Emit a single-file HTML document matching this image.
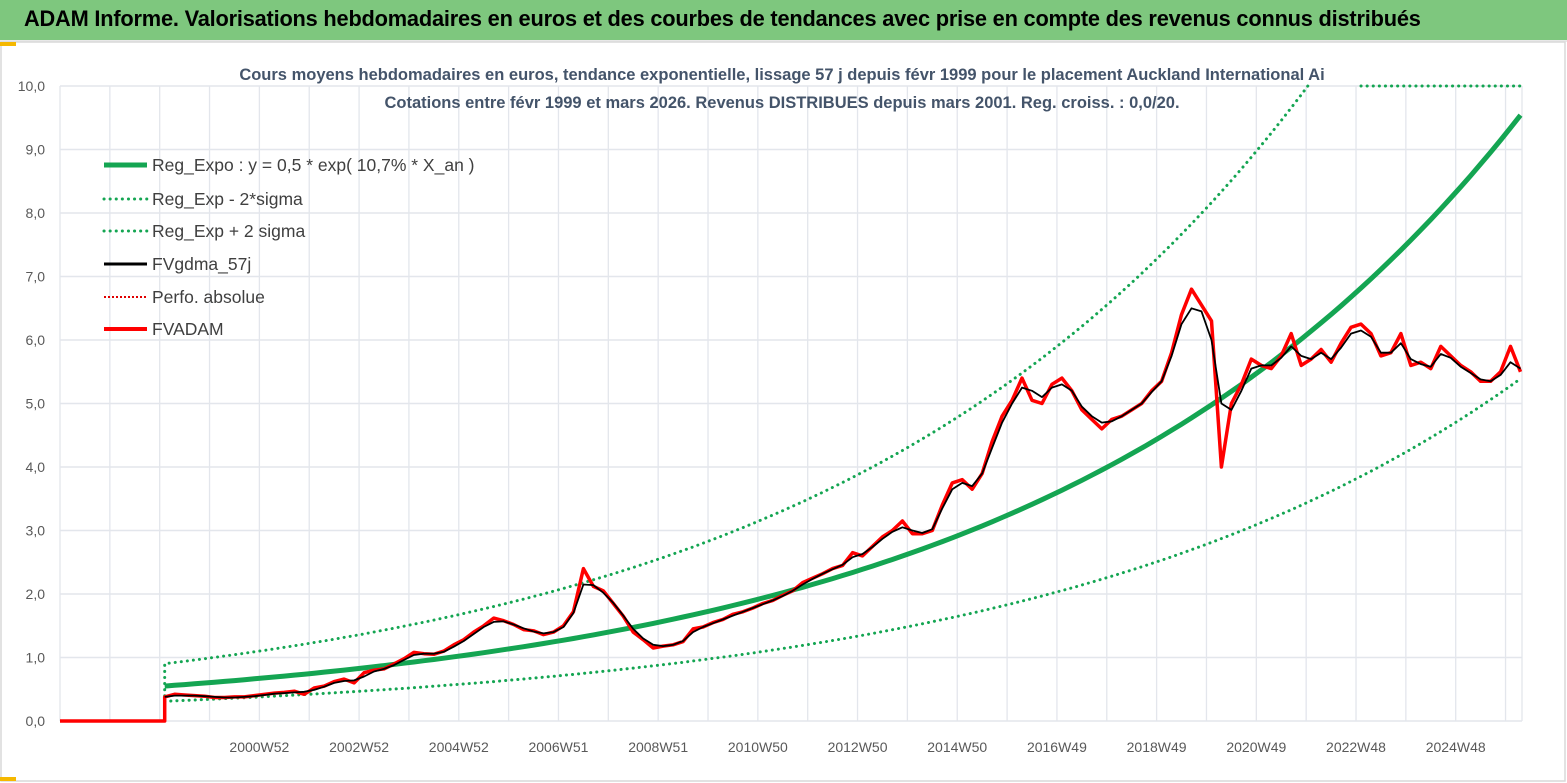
<!DOCTYPE html>
<html><head><meta charset="utf-8"><style>
html,body{margin:0;padding:0;background:#fff;}
body{width:1567px;height:783px;overflow:hidden;position:relative;font-family:"Liberation Sans",sans-serif;}
#hdr{position:absolute;left:0;top:0;width:1567px;height:40px;background:#7ec77e;border-bottom:2px solid #e8e8e8;}
#hdr span{position:absolute;left:24px;top:6px;font-size:22px;font-weight:bold;color:#000;letter-spacing:-0.2px;transform:scaleX(0.99);transform-origin:left;white-space:nowrap;}
svg{position:absolute;left:0;top:0;}
</style></head><body>
<div id="hdr"><span>ADAM Informe. Valorisations hebdomadaires en euros et des courbes de tendances avec prise en compte des revenus connus distribués</span></div>
<svg id="chart" width="1567" height="783"></svg>
<script>
// ---- data ----
const startYear = 1999.1;
const stepYears = 0.2;
const yTicks = [0,1,2,3,4,5,6,7,8,9,10];
const yTickLabels = ["0,0","1,0","2,0","3,0","4,0","5,0","6,0","7,0","8,0","9,0","10,0"];
const xTickYears = [2001,2003,2005,2007,2009,2011,2013,2015,2017,2019,2021,2023,2025];
const xTickLabels = ["2000W52","2002W52","2004W52","2006W51","2008W51","2010W50","2012W50","2014W50","2016W49","2018W49","2020W49","2022W48","2024W48"];
const regParams = [0.55, 0.1049];      // a, k : y = a*exp(k*(yr-start))
const bandFactors = [0.565, 1.64];     // lower, upper
const fvadam = [0.38,0.42,0.41,0.40,0.39,0.37,0.37,0.38,0.38,0.40,0.42,0.44,0.45,0.47,0.42,0.52,0.55,0.62,0.66,0.60,0.76,0.80,0.82,0.90,0.98,1.08,1.06,1.05,1.10,1.20,1.28,1.40,1.50,1.62,1.58,1.52,1.44,1.42,1.36,1.40,1.50,1.72,2.40,2.12,2.05,1.85,1.65,1.40,1.28,1.15,1.18,1.20,1.25,1.45,1.48,1.55,1.60,1.68,1.72,1.78,1.85,1.90,1.98,2.05,2.18,2.25,2.32,2.40,2.45,2.65,2.60,2.75,2.90,3.00,3.15,2.95,2.95,3.00,3.40,3.75,3.80,3.65,3.90,4.40,4.80,5.05,5.40,5.05,5.00,5.30,5.40,5.20,4.90,4.75,4.60,4.75,4.80,4.90,5.00,5.20,5.35,5.80,6.40,6.80,6.55,6.30,4.00,5.00,5.30,5.70,5.60,5.55,5.75,6.10,5.60,5.70,5.85,5.65,5.95,6.20,6.25,6.10,5.75,5.80,6.10,5.60,5.65,5.55,5.90,5.75,5.60,5.50,5.35,5.35,5.50,5.90,5.50];
const fvgdma = [0.38,0.40,0.40,0.40,0.39,0.38,0.37,0.37,0.38,0.39,0.41,0.43,0.44,0.45,0.46,0.49,0.54,0.60,0.63,0.64,0.70,0.78,0.82,0.88,0.96,1.04,1.06,1.06,1.09,1.17,1.26,1.37,1.48,1.56,1.57,1.52,1.46,1.41,1.38,1.40,1.48,1.70,2.15,2.14,2.02,1.86,1.66,1.45,1.30,1.20,1.18,1.20,1.26,1.40,1.48,1.54,1.60,1.66,1.72,1.78,1.84,1.90,1.97,2.05,2.15,2.24,2.32,2.39,2.46,2.58,2.63,2.74,2.87,2.98,3.05,3.00,2.96,3.02,3.35,3.65,3.75,3.70,3.90,4.30,4.70,5.00,5.25,5.20,5.10,5.25,5.30,5.20,4.95,4.80,4.70,4.72,4.80,4.90,5.00,5.18,5.35,5.75,6.25,6.50,6.45,6.00,5.00,4.90,5.20,5.55,5.60,5.60,5.72,5.90,5.75,5.70,5.80,5.70,5.88,6.10,6.15,6.05,5.80,5.80,5.95,5.70,5.62,5.58,5.78,5.72,5.58,5.48,5.38,5.35,5.45,5.65,5.55];

// ---- axes ----
const X0=60, X1=1522, Y0=721, Y1=86, YR0=1997, YR1=2026.33;
const xS = yr => X0 + (yr-YR0)*(X1-X0)/(YR1-YR0);
const yS = v => Y0 - v*(Y0-Y1)/10;
const NS="http://www.w3.org/2000/svg";
const svg=document.getElementById('chart');
function mk(tag,attrs,parent){const e=document.createElementNS(NS,tag);for(const k in attrs)e.setAttribute(k,attrs[k]);(parent||svg).appendChild(e);return e;}

const grid=mk('g',{});


for(let yr=YR0; yr<=2026; yr++){ mk('line',{x1:xS(yr),x2:xS(yr),y1:Y1,y2:Y0,stroke:'#e3e6ec','stroke-width':1.3},grid); }
mk('line',{x1:X1,x2:X1,y1:Y1,y2:Y0,stroke:'#e3e6ec','stroke-width':1.3},grid);
yTicks.forEach((t,i)=>{
  mk('line',{x1:X0,x2:X1,y1:yS(t),y2:yS(t),stroke:'#e3e6ec','stroke-width':1.5},grid);
  const tx=mk('text',{x:45,y:yS(t)+5,'text-anchor':'end','font-size':14,fill:'#595959','font-family':'Liberation Sans, sans-serif'});
  tx.textContent=yTickLabels[i];
  
  
});
xTickYears.forEach((yr,i)=>{
  const tx=mk('text',{x:xS(yr),y:752,'text-anchor':'middle','font-size':14,fill:'#595959','font-family':'Liberation Sans, sans-serif'});
  tx.textContent=xTickLabels[i];
  
  
});

const defs=mk('defs',{});
const cp=mk('clipPath',{id:'pc'},defs); mk('rect',{x:X0,y:Y1-2,width:X1-X0+2,height:Y0-Y1+4},cp);

function yrAt(i){return startYear+i*stepYears;}
function pathFrom(vals,prefix){
  let d=prefix||'';
  vals.forEach((v,i)=>{d+=(d?'L':'M')+xS(yrAt(i)).toFixed(1)+','+yS(v).toFixed(1);});
  return d;
}
const n=fvadam.length;
const reg=[],low=[],up=[];
for(let i=0;i<n;i++){const r=regParams[0]*Math.exp(regParams[1]*(yrAt(i)-startYear));reg.push(r);low.push(r*bandFactors[0]);up.push(r*bandFactors[1]);}

const plot=mk('g',{'clip-path':'url(#pc)'});
let dU='M'+xS(startYear)+','+yS(0.3);
up.forEach((v,i)=>{ if(yrAt(i)<2023.1||v<10) dU+='L'+xS(yrAt(i)).toFixed(1)+','+yS(Math.min(v,10.6)).toFixed(1); });
const pu=mk('path',{d:dU,fill:'none',stroke:'#14a552','stroke-width':3,'stroke-dasharray':'0.1 6','stroke-linecap':'round'},plot);


let dUc=''; up.forEach((v,i)=>{ if(yrAt(i)>=2023.1 && v>=10) dUc+=(dUc?'L':'M')+xS(yrAt(i)).toFixed(1)+','+yS(10); });
dUc+='L'+X1+','+yS(10);
const pu2=mk('path',{d:dUc,fill:'none',stroke:'#14a552','stroke-width':3,'stroke-dasharray':'0.1 6','stroke-linecap':'round'},plot);


const pl=mk('path',{d:pathFrom(low),fill:'none',stroke:'#14a552','stroke-width':3,'stroke-dasharray':'0.1 6','stroke-linecap':'round'},plot);


const pr=mk('path',{d:pathFrom(reg),fill:'none',stroke:'#14a552','stroke-width':5},plot);


const pa=mk('path',{d:pathFrom(fvadam,'M'+X0+','+Y0+'L'+xS(startYear).toFixed(1)+','+Y0),fill:'none',stroke:'#ff0000','stroke-width':3.5,'stroke-linejoin':'round'},plot);


const pg=mk('path',{d:pathFrom(fvgdma),fill:'none',stroke:'#000','stroke-width':1.8,'stroke-linejoin':'round'},plot);



const st=[["Cours moyens hebdomadaires en euros, tendance exponentielle, lissage 57 j depuis févr 1999 pour le placement Auckland International Ai",80],["Cotations entre févr 1999 et mars 2026. Revenus DISTRIBUES  depuis mars 2001. Reg. croiss. : 0,0/20.",108]];
st.forEach(s=>{const t=mk('text',{x:782,y:s[1],'text-anchor':'middle','font-size':16.5,'font-weight':'bold',fill:'#44546a','font-family':'Liberation Sans, sans-serif'});
 t.textContent=s[0];
 
 });

const leg=[["Reg_Expo : y = 0,5  * exp( 10,7% *  X_an )",'#14a552',5,null],["Reg_Exp - 2*sigma",'#14a552',3,'0.1 6'],["Reg_Exp + 2 sigma",'#14a552',3,'0.1 6'],["FVgdma_57j",'#000',3,null],["Perfo. absolue",'#e00000',2,'2 2'],["FVADAM",'#ff0000',4,null]];
const rows=[165,199,231,264,297,329];
leg.forEach((l,i)=>{
  const g=mk('g',{});
  
  
  const a={x1:104,x2:147,y1:rows[i],y2:rows[i],stroke:l[1],'stroke-width':l[2]};
  if(l[3]){a['stroke-dasharray']=l[3];a['stroke-linecap']=l[3]=='0.1 6'?'round':'butt';}
  mk('line',a,g);
  const t=mk('text',{x:152,y:rows[i]+6,'font-size':17.5,fill:'#404040','font-family':'Liberation Sans, sans-serif'},g);
  t.textContent=l[0];
});
const fr=mk('rect',{x:1,y:42,width:1564,height:739,fill:'none',stroke:'#d9d9d9','stroke-width':1.5});


mk('rect',{x:0,y:42,width:16,height:4,fill:'#f5b800'});
mk('rect',{x:0,y:777,width:16,height:4,fill:'#f5b800'});
</script>
</body></html>
